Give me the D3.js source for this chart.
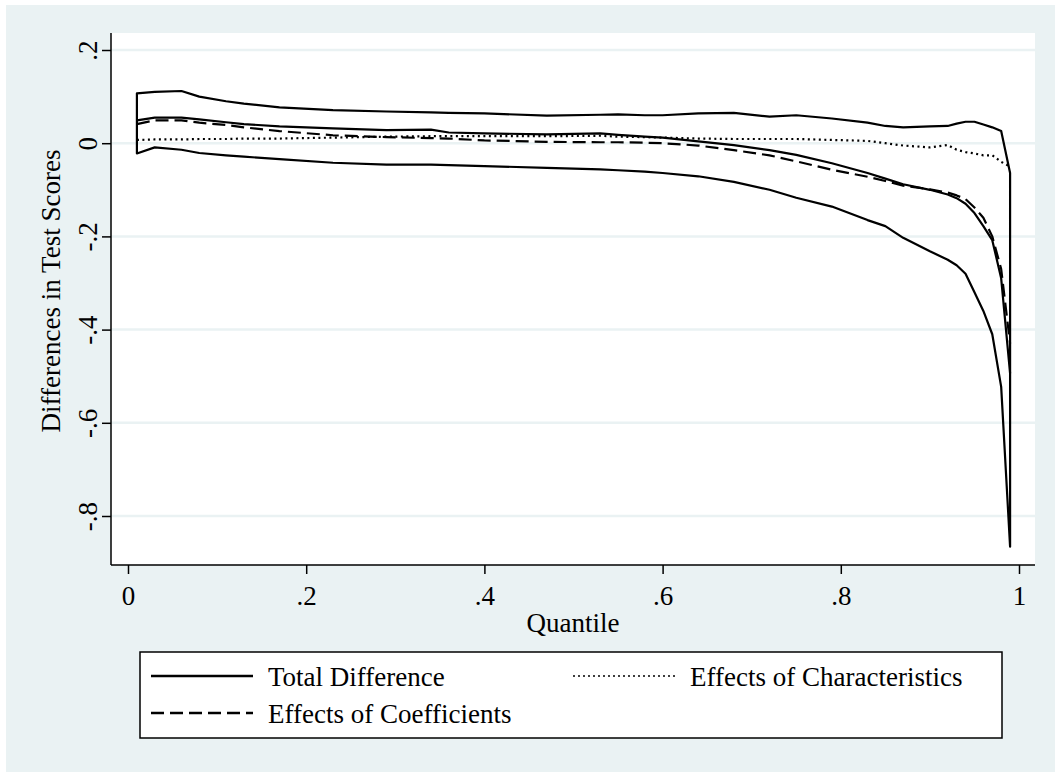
<!DOCTYPE html>
<html>
<head>
<meta charset="utf-8">
<script src="https://cdn.jsdelivr.net/npm/d3@7"></script>
<style>
  html, body { margin: 0; padding: 0; background: #fff; }
  text { font-family: "Liberation Serif", "Times New Roman", serif; fill: #000; }
</style>
</head>
<body>
<div id="chart"></div>
<script>
// quantiles
const quantiles = [0.01, 0.03, 0.06, 0.08, 0.11, 0.13, 0.17, 0.23, 0.29, 0.34, 0.36, 0.40,
    0.47, 0.53, 0.55, 0.58, 0.60, 0.64, 0.68, 0.72, 0.75, 0.79, 0.83, 0.85, 0.87, 0.90,
    0.92, 0.93, 0.94, 0.95, 0.96, 0.97, 0.98, 0.99];

const totalDiff = [0.049, 0.055, 0.055, 0.051, 0.045, 0.041, 0.036, 0.032, 0.028, 0.029, 0.023, 0.021,
    0.019, 0.021, 0.018, 0.014, 0.012, 0.004, -0.004, -0.015, -0.025, -0.043, -0.064, -0.076, -0.088, -0.100,
    -0.110, -0.118, -0.130, -0.150, -0.178, -0.208, -0.290, -0.494];

const upperCI = [0.107, 0.110, 0.112, 0.100, 0.090, 0.085, 0.077, 0.071, 0.068, 0.066, 0.065, 0.064,
    0.059, 0.061, 0.062, 0.060, 0.060, 0.064, 0.065, 0.057, 0.060, 0.053, 0.044, 0.037, 0.034, 0.036,
    0.037, 0.042, 0.046, 0.046, 0.040, 0.034, 0.026, -0.064];

const lowerCI = [-0.022, -0.009, -0.014, -0.021, -0.026, -0.029, -0.034, -0.042, -0.046, -0.046, -0.047, -0.049,
    -0.053, -0.056, -0.058, -0.061, -0.064, -0.071, -0.083, -0.100, -0.117, -0.136, -0.165, -0.178, -0.203, -0.232,
    -0.250, -0.262, -0.280, -0.320, -0.360, -0.410, -0.523, -0.866];

const coefEffects = [0.041, 0.049, 0.049, 0.044, 0.039, 0.034, 0.026, 0.017, 0.013, 0.011, 0.010, 0.006,
    0.003, 0.002, 0.002, 0.001, 0.000, -0.005, -0.015, -0.026, -0.039, -0.057, -0.072, -0.081, -0.091, -0.099,
    -0.106, -0.112, -0.120, -0.138, -0.160, -0.200, -0.270, -0.430];

const charEffects = [0.007, 0.008, 0.008, 0.009, 0.009, 0.010, 0.010, 0.012, 0.014, 0.015, 0.015, 0.015,
    0.015, 0.016, 0.014, 0.013, 0.012, 0.010, 0.009, 0.009, 0.009, 0.007, 0.005, 0.000, -0.005, -0.009,
    -0.004, -0.014, -0.019, -0.022, -0.026, -0.026, -0.040, -0.050];

const xTicks = [0, 0.2, 0.4, 0.6, 0.8, 1];
const yTicks = [0.2, 0, -0.2, -0.4, -0.6, -0.8];

const legendItems = [
    { label: 'Total Difference', dash: null, col: 0, row: 0 },
    { label: 'Effects of Characteristics', dash: '2,3', col: 1, row: 0 },
    { label: 'Effects of Coefficients', dash: '13,6', col: 0, row: 1 }
];

const width = 1055, height = 772;
const bgColor = '#eaf2f3';
const fontSize = 27;

// plot region (white) and where the data range sits inside it
const plotLeft = 111, plotRight = 1035, plotTop = 33, plotBottom = 565;

const svg = d3.select('#chart').append('svg')
    .attr('width', width)
    .attr('height', height);

svg.append('rect')
    .attr('x', 6).attr('y', 5)
    .attr('width', width - 6).attr('height', height - 5)
    .attr('fill', bgColor);

svg.append('rect')
    .attr('x', plotLeft).attr('y', plotTop)
    .attr('width', plotRight - plotLeft).attr('height', plotBottom - plotTop)
    .attr('fill', '#fff');

const x = d3.scaleLinear().domain([0, 1]).range([128, 1019]);
const y = d3.scaleLinear().domain([-0.8, 0.2]).range([516, 50]);

const fmt = d => String(+d.toFixed(1)).replace(/^(-?)0\./, '$1.');

// horizontal gridlines
svg.append('g')
    .selectAll('line')
    .data(yTicks)
    .enter()
    .append('line')
    .attr('x1', plotLeft).attr('x2', plotRight)
    .attr('y1', d => y(d)).attr('y2', d => y(d))
    .attr('stroke', bgColor)
    .attr('stroke-width', 2.5);

// y axis
const yAxis = svg.append('g')
    .attr('transform', `translate(${plotLeft},0)`)
    .call(d3.axisLeft(y).tickValues(yTicks).tickFormat(fmt).tickSize(9).tickSizeOuter(0));
yAxis.select('.domain').remove();
yAxis.selectAll('.tick line').attr('stroke', '#000').attr('stroke-width', 1.5);
yAxis.selectAll('.tick text')
    .attr('transform', 'rotate(-90)')
    .attr('x', 0).attr('y', -14).attr('dy', 0)
    .attr('text-anchor', 'middle')
    .style('font-size', fontSize + 'px')
    .style('font-family', '"Liberation Serif", "Times New Roman", serif');

// x axis
const xAxis = svg.append('g')
    .attr('transform', `translate(0,${plotBottom})`)
    .call(d3.axisBottom(x).tickValues(xTicks).tickFormat(fmt).tickSize(9).tickSizeOuter(0));
xAxis.select('.domain').remove();
xAxis.selectAll('.tick line').attr('stroke', '#000').attr('stroke-width', 1.5);
xAxis.selectAll('.tick text')
    .attr('y', 40).attr('dy', 0)
    .style('font-size', fontSize + 'px')
    .style('font-family', '"Liberation Serif", "Times New Roman", serif');

// axis lines along the plot region edges
svg.append('line')
    .attr('x1', plotLeft).attr('x2', plotLeft)
    .attr('y1', plotTop).attr('y2', plotBottom)
    .attr('stroke', '#000').attr('stroke-width', 1.5);
svg.append('line')
    .attr('x1', plotLeft).attr('x2', plotRight)
    .attr('y1', plotBottom).attr('y2', plotBottom)
    .attr('stroke', '#000').attr('stroke-width', 1.5);

// axis titles
svg.append('text')
    .attr('transform', 'translate(60,291) rotate(-90)')
    .attr('text-anchor', 'middle')
    .style('font-size', fontSize + 'px')
    .text('Differences in Test Scores');

svg.append('text')
    .attr('x', (plotLeft + plotRight) / 2)
    .attr('y', 632)
    .attr('text-anchor', 'middle')
    .style('font-size', fontSize + 'px')
    .text('Quantile');

// confidence band outline (upper then lower reversed, closed)
const bandPts = quantiles.map((q, i) => [q, upperCI[i]])
    .concat(quantiles.map((q, i) => [q, lowerCI[i]]).reverse());

svg.append('path')
    .datum(bandPts)
    .attr('fill', 'none')
    .attr('stroke', '#000')
    .attr('stroke-width', 2.2)
    .attr('stroke-linejoin', 'round')
    .attr('d', d3.line().x(d => x(d[0])).y(d => y(d[1])).curve(d3.curveLinearClosed));

const line = d3.line().x(d => x(d[0])).y(d => y(d[1]));

const series = [
    { values: charEffects, dash: '2,3.5', width: 2.2 },
    { values: coefEffects, dash: '13,6', width: 2.2 },
    { values: totalDiff, dash: null, width: 2.2 }
];

series.forEach(s => {
    svg.append('path')
        .datum(quantiles.map((q, i) => [q, s.values[i]]))
        .attr('fill', 'none')
        .attr('stroke', '#000')
        .attr('stroke-width', s.width)
        .attr('stroke-linejoin', 'round')
        .attr('stroke-dasharray', s.dash)
        .attr('d', line);
});

// legend
const legend = svg.append('g');
legend.append('rect')
    .attr('x', 140).attr('y', 652)
    .attr('width', 862).attr('height', 86)
    .attr('fill', '#fff')
    .attr('stroke', '#000')
    .attr('stroke-width', 1.5);

const colX = [151, 573];
const rowY = [676, 713];

legendItems.forEach(item => {
    const lx = colX[item.col];
    const ly = rowY[item.row];
    legend.append('line')
        .attr('x1', lx).attr('x2', lx + 102)
        .attr('y1', ly).attr('y2', ly)
        .attr('stroke', '#000')
        .attr('stroke-width', item.dash === '2,3' ? 1.5 : 2.5)
        .attr('stroke-dasharray', item.dash);
    legend.append('text')
        .attr('x', lx + 117)
        .attr('y', ly + 10)
        .style('font-size', fontSize + 'px')
        .text(item.label);
});
</script>
</body>
</html>
